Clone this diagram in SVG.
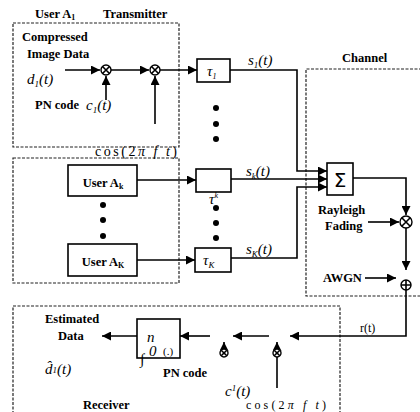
<svg xmlns="http://www.w3.org/2000/svg" width="420" height="412" viewBox="0 0 420 412">
<defs>
<marker id="ah" viewBox="0 0 10 10" refX="10" refY="5" markerWidth="9" markerHeight="9" markerUnits="userSpaceOnUse" orient="auto">
<path d="M0,0 L10,5 L0,10 z" fill="#000"/>
</marker>
<style>
.dash{fill:none;stroke:#222;stroke-width:1.2;stroke-dasharray:3,1.5}
.box{fill:#fff;stroke:#000;stroke-width:1.6}
.ln{fill:none;stroke:#000;stroke-width:1.6}
.arr{fill:none;stroke:#000;stroke-width:1.6;marker-end:url(#ah)}
.t{font-family:"Liberation Serif",serif;font-weight:bold;font-size:12.5px;fill:#000}
.m{font-family:"Liberation Serif",serif;font-style:italic;font-size:15px;fill:#000}
.op{fill:#fff;stroke:#000;stroke-width:1.4}
.dot{fill:#000}
</style>
</defs>
<g id="frames">
<rect class="dash" x="13" y="23" width="166" height="124"/>
<rect class="dash" x="13" y="158" width="166" height="125"/>
<path class="dash" d="M422,69 H306 V296 H422"/>
<path class="dash" d="M13,414 V306 H340 V414"/>
</g>
<g id="labels">
<text class="t" x="35" y="18">User A<tspan font-size="8" dy="2">1</tspan></text>
<text class="t" x="103" y="18">Transmitter</text>
<text class="t" x="22" y="41">Compressed</text>
<text class="t" x="27" y="58">Image Data</text>
<text class="m" x="27" y="84">d<tspan font-size="9" dy="3">1</tspan><tspan dy="-3">(t)</tspan></text>
<text class="t" x="35" y="109">PN code</text>
<text class="m" x="86" y="110">c<tspan font-size="9" dy="3">1</tspan><tspan dy="-3">(t)</tspan></text>
<text x="95" y="156" font-family="Liberation Serif,serif" font-size="14" textLength="82" lengthAdjust="spacing">cos(2<tspan font-style="italic">π f t</tspan>)</text>
<text class="t" x="342" y="62">Channel</text>
<text class="m" x="248" y="65" font-size="14">s<tspan font-size="9" dy="3">1</tspan><tspan dy="-3">(t)</tspan></text>
<text class="m" x="246" y="176" font-size="14">s<tspan font-size="9" dy="3">k</tspan><tspan dy="-3">(t)</tspan></text>
<text class="m" x="246" y="254" font-size="14">s<tspan font-size="9" dy="3">K</tspan><tspan dy="-3">(t)</tspan></text>
<text class="m" x="209" y="204" font-size="12">τ<tspan font-size="8" dy="-6">k</tspan></text>
<text class="t" x="318" y="214">Rayleigh</text>
<text class="t" x="325" y="230">Fading</text>
<text class="t" x="323" y="282">AWGN</text>
<text x="360" y="332" font-family="Liberation Serif,serif" font-size="12">r(t)</text>
<text class="t" x="45" y="323">Estimated</text>
<text class="t" x="58" y="340">Data</text>
<text class="m" x="45" y="374">d̂<tspan font-size="9" dy="-1">1</tspan><tspan dy="1">(t)</tspan></text>
<text class="t" x="83" y="409">Receiver</text>
<text class="t" x="163" y="377">PN code</text>
<text class="m" x="225" y="396">c<tspan font-size="9" dy="-5">1</tspan><tspan dy="5">(t)</tspan></text>
<text x="246" y="409" font-family="Liberation Serif,serif" font-size="12" textLength="80" lengthAdjust="spacing">cos(2<tspan font-style="italic">π f t</tspan>)</text>
</g>
<g id="dots">
<circle class="dot" cx="216" cy="108" r="3"/>
<circle class="dot" cx="216" cy="124" r="3"/>
<circle class="dot" cx="216" cy="139" r="3"/>
<circle class="dot" cx="216" cy="208" r="3"/>
<circle class="dot" cx="216" cy="223" r="3"/>
<circle class="dot" cx="216" cy="238" r="3"/>
<circle class="dot" cx="103" cy="205" r="3"/>
<circle class="dot" cx="103" cy="220" r="3"/>
<circle class="dot" cx="103" cy="236" r="3"/>
</g>
<g id="connectors">
<line class="arr" x1="65" y1="70" x2="100" y2="70"/>
<line class="arr" x1="111" y1="70" x2="149" y2="70"/>
<line class="arr" x1="160" y1="70" x2="197" y2="70"/>
<line class="arr" x1="106" y1="100" x2="106" y2="76"/>
<line class="arr" x1="155" y1="124" x2="155" y2="76"/>
<path class="arr" d="M230,70 H297 V171 H327"/>
<line class="arr" x1="137" y1="180" x2="196" y2="180"/>
<line class="arr" x1="231" y1="179" x2="327" y2="179"/>
<line class="arr" x1="137" y1="260" x2="195" y2="260"/>
<path class="arr" d="M231,258 H297 V187 H327"/>
<path class="arr" d="M353,178 H406 V215"/>
<line class="arr" x1="368" y1="222" x2="399" y2="222"/>
<line class="arr" x1="406" y1="228" x2="406" y2="270"/>
<line class="arr" x1="365" y1="278" x2="396" y2="278"/>
<path class="arr" d="M406,290 V336 H290"/>
<line class="arr" x1="269" y1="336" x2="233" y2="336"/>
<line class="arr" x1="210" y1="336" x2="180" y2="336"/>
<line class="arr" x1="137" y1="336" x2="102" y2="336"/>
<line class="arr" x1="224" y1="350" x2="224" y2="342"/>
<line class="arr" x1="277" y1="388" x2="277" y2="342"/>
</g>
<g id="tau1"><rect class="box" x="197" y="59" width="33" height="23"/><text class="m" x="207" y="76" font-size="13">τ<tspan font-size="8" dy="3">1</tspan></text></g>
<g id="tauk"><rect class="box" x="196" y="169" width="35" height="23"/></g>
<g id="tauK"><rect class="box" x="195" y="248" width="36" height="24"/><text class="m" x="203" y="265" font-size="13">τ<tspan font-size="9" dy="3">K</tspan></text></g>
<g id="userk"><rect class="box" x="68" y="165" width="69" height="31"/><text class="t" x="103" y="187" text-anchor="middle" font-size="13">User A<tspan font-size="8" dy="2">k</tspan></text></g>
<g id="userK"><rect class="box" x="68" y="244" width="69" height="32"/><text class="t" x="103" y="266" text-anchor="middle" font-size="13">User A<tspan font-size="8" dy="2">K</tspan></text></g>
<g id="sum"><rect class="box" x="327" y="163" width="26" height="32"/><text x="340" y="187" text-anchor="middle" font-family="DejaVu Sans,sans-serif" font-size="20">Σ</text></g>
<g id="integrator"><rect class="box" x="137" y="319" width="43" height="39"/>
<text class="m" x="147" y="342" font-size="11">n</text>
<text class="m" x="140" y="364" font-size="15">∫</text>
<text class="m" x="149" y="356" font-size="7">0</text>
<text x="163" y="355" font-family="Liberation Serif,serif" font-size="11">(.)</text></g>
<g id="mult1"><circle class="op" cx="106" cy="70" r="5"/><path class="ln" stroke-width="1.1" d="M102.5,66.5 L109.5,73.5 M109.5,66.5 L102.5,73.5"/></g>
<g id="mult2"><circle class="op" cx="155" cy="70" r="5"/><path class="ln" stroke-width="1.1" d="M151.5,66.5 L158.5,73.5 M158.5,66.5 L151.5,73.5"/></g>
<g id="fading"><circle class="op" cx="406" cy="222" r="6"/><path class="ln" stroke-width="1.1" d="M401.8,217.8 L410.2,226.2 M410.2,217.8 L401.8,226.2"/></g>
<g id="awgn"><circle class="op" cx="406" cy="285" r="5"/><path class="ln" stroke-width="1.1" d="M401,285 H411 M406,280 V290"/></g>
<g id="rmult1"><circle class="op" cx="224" cy="353" r="4"/><path class="ln" stroke-width="1" d="M221.2,350.2 L226.8,355.8 M226.8,350.2 L221.2,355.8"/></g>
<g id="rmult2"><circle class="op" cx="277" cy="353" r="4"/><path class="ln" stroke-width="1" d="M274.2,350.2 L279.8,355.8 M279.8,350.2 L274.2,355.8"/></g>
</svg>
